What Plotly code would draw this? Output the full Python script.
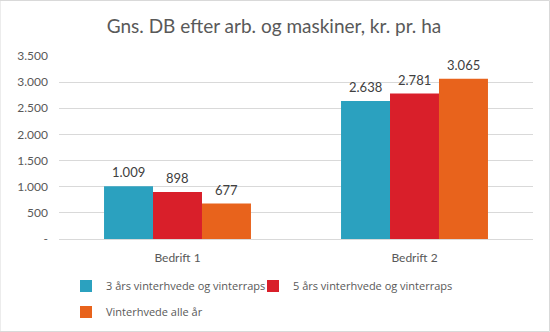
import plotly.graph_objects as go

categories = ["Bedrift 1", "Bedrift 2"]
series_names = ["3 års vinterhvede og vinterraps", "5 års vinterhvede og vinterraps", "Vinterhvede alle år"]
s1 = [1009, 2638]
s2 = [898, 2781]
s3 = [677, 3065]
colors = ["#2BA1BF", "#D91F2A", "#E8631C"]
tick_vals = [0, 500, 1000, 1500, 2000, 2500, 3000, 3500]
tick_text = ["-", "500", "1.000", "1.500", "2.000", "2.500", "3.000", "3.500"]

def fmt(v):
    return f"{v:,}".replace(",", ".")

W, H = 550, 332
ML, MR, MT, MB = 59, 17, 56, 93
PW = W - ML - MR
PH = H - MT - MB
BARGAP = 0.38
bar_px = PW / len(categories) * (1 - BARGAP) / 3

fig = go.Figure()
legends = ["legend", "legend3", "legend2"]
for i, (name, vals, c) in enumerate(zip(series_names, [s1, s2, s3], colors)):
    fig.add_trace(go.Bar(
        x=categories, y=vals, name=name, marker_color=c,
        marker_line_width=0, legend=legends[i],
    ))
    for cat, v in zip(categories, vals):
        fig.add_annotation(x=cat, y=v, xref="x", yref="y", text=fmt(v),
                           showarrow=False, xshift=(i - 1) * bar_px, yshift=14,
                           font=dict(size=13, color="#404040", family="Lato"))

def px_to_y(py):
    return (H - MB - py) / PH

def px_to_x(px):
    return (px - ML) / PW

leg_common = dict(orientation="h", xanchor="left", yanchor="middle",
                  font=dict(size=11, color="#595959", family="Open Sans"),
                  itemwidth=30, bgcolor="rgba(0,0,0,0)")
fig.update_layout(
    width=W, height=H,
    margin=dict(l=ML, r=MR, t=MT, b=MB, autoexpand=False),
    paper_bgcolor="white", plot_bgcolor="white",
    font=dict(family="Lato", color="#595959", size=12),
    title=dict(text="Gns. DB efter arb. og maskiner, kr. pr. ha", x=px_to_x(274), xref="paper",
               xanchor="center", y=1 - 26 / H, yanchor="middle",
               font=dict(size=19, color="#595959", family="Lato")),
    barmode="group", bargap=BARGAP, bargroupgap=0,
    showlegend=True,
    legend=dict(x=px_to_x(66), y=px_to_y(286), **leg_common),
    legend3=dict(x=px_to_x(253), y=px_to_y(286), **leg_common),
    legend2=dict(x=px_to_x(66), y=px_to_y(312), **leg_common),
)
fig.update_yaxes(range=[0, 3500], tickvals=tick_vals, ticktext=tick_text,
                 showgrid=True, gridcolor="#D9D9D9", gridwidth=1, zeroline=False,
                 showline=False, ticks="", ticklabelstandoff=10,
                 tickfont=dict(size=12, color="#595959"))
fig.update_xaxes(showline=True, linecolor="#D9D9D9", linewidth=1, ticks="",
                 ticklabelstandoff=8, tickfont=dict(size=12, color="#595959"))
fig.add_shape(type="rect", xref="paper", yref="paper",
              x0=-ML / PW, x1=(PW + MR - 0.5) / PW, y0=-(MB - 0.5) / PH, y1=(PH + MT - 0.5) / PH,
              line=dict(color="#D9D9D9", width=1))
fig.write_html("out.html")
